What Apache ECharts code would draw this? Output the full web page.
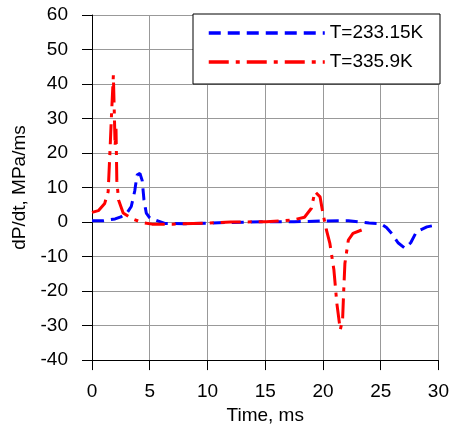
<!DOCTYPE html>
<html>
<head>
<meta charset="utf-8">
<script src="https://cdn.jsdelivr.net/npm/echarts@6/dist/echarts.min.js"></script>
<style>
    html, body { margin: 0; padding: 0; background: #fff; }
    #ChartDIV { width: 452px; height: 430px; }
</style>
</head>
<body>
<div id="ChartDIV"></div>
<script>
var seriesNames = ['T=233.15K', 'T=335.9K'];

var timeBlue = [0, 1, 2, 2.5, 3, 3.4, 3.7, 3.9, 4.15, 4.35, 4.5, 4.7, 5.0, 5.5, 6.3, 8, 10, 12, 15, 17.5, 20, 22.2, 24, 25, 25.5, 26, 26.5, 27.1, 27.6, 28.1, 29, 30];
var valBlue = [0.4, 0.4, 0.9, 1.5, 2.5, 4.5, 9, 13.6, 14.1, 12, 6.4, 2.6, 1.2, 0.6, -0.4, -0.5, -0.3, -0.1, 0.1, 0.1, 0.3, 0.4, -0.3, -0.5, -1.6, -3.5, -6, -7.6, -6, -2.8, -1.4, -0.7];

var timeRed = [0, 0.55, 1.1, 1.4, 1.56, 1.7, 1.85, 1.93, 2.0, 2.08, 2.15, 2.3, 2.7, 3.4, 4.3, 5.2, 7, 10, 12, 15.1, 17.4, 18.4, 19.0, 19.3, 19.75, 20.0, 20.3, 20.6, 20.95, 21.2, 21.5, 21.7, 21.8, 21.9, 22.2, 22.6, 23.35];
var valRed = [2.8, 3.3, 5.4, 8.8, 20.8, 32, 42.5, 32, 22, 27, 12, 6.4, 2.6, 1.1, -0.1, -0.6, -0.6, -0.3, 0, 0.1, 0.6, 1.4, 4, 8.8, 7.3, 2.5, -2.3, -6.2, -13.9, -23.5, -31.2, -28.3, -19.7, -12, -5.2, -3.3, -2.3];

var xTicks = { min: 0, max: 30, interval: 5 };
var yTicks = { min: -40, max: 60, interval: 10 };

function pairs(xs, ys) {
    var res = [];
    for (var i = 0; i < xs.length; i++) {
        res.push([xs[i], ys[i]]);
    }
    return res;
}

var myChart = echarts.init(document.getElementById('ChartDIV'));
var font = 'Liberation Sans, Arial, sans-serif';

var option = {
    animation: false,
    backgroundColor: '#fff',
    grid: { left: 92, right: 13, top: 15, bottom: 68 },
    graphic: [
        {
            type: 'rect',
            z: 3,
            shape: { x: 193, y: 14, width: 247, height: 70 },
            style: { fill: '#fff', stroke: '#000', lineWidth: 1 }
        }
    ],
    legend: {
        orient: 'vertical',
        left: 207,
        top: 23,
        padding: 0,
        itemWidth: 116,
        itemHeight: 14,
        itemGap: 9,
        z: 5,
        itemStyle: { color: 'rgba(0,0,0,0)', borderColor: 'rgba(0,0,0,0)', borderWidth: 0 },
        lineStyle: { width: 3.5 },
        textStyle: { fontFamily: font, fontSize: 19, color: '#000', lineHeight: 20 },
        data: seriesNames
    },
    xAxis: {
        type: 'value',
        min: xTicks.min,
        max: xTicks.max,
        interval: xTicks.interval,
        name: 'Time, ms',
        nameLocation: 'middle',
        nameGap: 42,
        nameTextStyle: { fontFamily: font, fontSize: 19, color: '#000' },
        axisLine: { onZero: false, lineStyle: { color: '#000', width: 1 } },
        axisTick: { show: true, length: 10, lineStyle: { color: '#000' } },
        axisLabel: { margin: 22, fontFamily: font, fontSize: 19, color: '#000' },
        splitLine: { show: true, lineStyle: { color: '#999', width: 1 } }
    },
    yAxis: {
        type: 'value',
        min: yTicks.min,
        max: yTicks.max,
        interval: yTicks.interval,
        name: 'dP/dt, MPa/ms',
        nameLocation: 'middle',
        nameRotate: 90,
        nameGap: 62,
        nameTextStyle: { fontFamily: font, fontSize: 19, color: '#000' },
        axisLine: { show: true, onZero: false, lineStyle: { color: '#000', width: 1 } },
        axisTick: { show: true, length: 10, lineStyle: { color: '#000' } },
        axisLabel: { margin: 24, fontFamily: font, fontSize: 19, color: '#000' },
        splitLine: { show: true, lineStyle: { color: '#999', width: 1 } }
    },
    series: [
        {
            name: seriesNames[0],
            type: 'line',
            symbol: 'none',
            smooth: false,
            lineStyle: { color: '#0000ff', width: 3, type: [12, 7] },
            itemStyle: { color: '#0000ff' },
            data: pairs(timeBlue, valBlue)
        },
        {
            name: seriesNames[1],
            type: 'line',
            symbol: 'none',
            smooth: false,
            lineStyle: { color: '#ff0000', width: 3, type: [20, 7, 4, 7] },
            itemStyle: { color: '#ff0000' },
            data: pairs(timeRed, valRed)
        }
    ]
};

myChart.setOption(option);
</script>
</body>
</html>
